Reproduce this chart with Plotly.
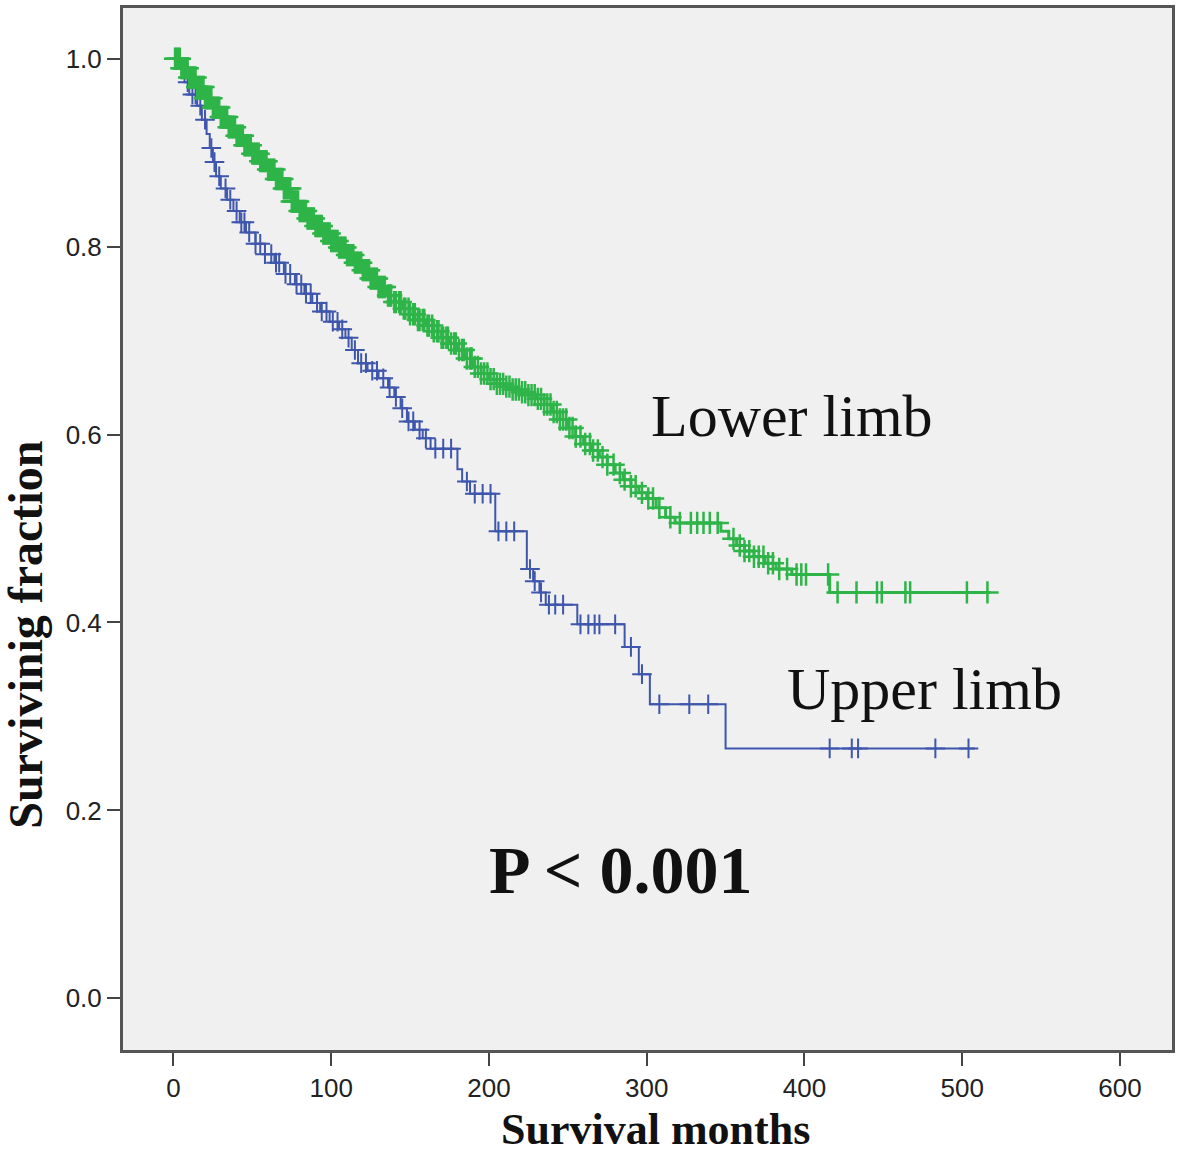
import numpy as np
import plotly.graph_objects as go

# ---------------- data ----------------
# Upper limb Kaplan-Meier step points (months, surviving fraction)
upper_t = [0, 3, 7, 10, 15, 18, 21, 23, 25, 27, 30, 34, 38, 42, 46, 52, 58, 64, 70, 77,
           83, 88, 93, 99, 105, 109, 113, 117, 123, 130, 136, 140, 144, 148, 153, 158, 163,
           180, 183, 188, 204, 224, 228, 232, 236, 256, 286, 295, 302, 350, 508]
upper_s = [1.0, 0.99, 0.975, 0.962, 0.95, 0.935, 0.92, 0.905, 0.89, 0.875, 0.862, 0.85, 0.838,
           0.826, 0.815, 0.803, 0.792, 0.783, 0.771, 0.76, 0.75, 0.74, 0.731, 0.72, 0.712, 0.703,
           0.69, 0.676, 0.668, 0.66, 0.65, 0.64, 0.628, 0.614, 0.605, 0.596, 0.585,
           0.563, 0.55, 0.537, 0.497, 0.457, 0.444, 0.432, 0.419, 0.398, 0.374, 0.345, 0.313,
           0.266, 0.266]
upper_censor = [6, 9, 12, 14, 17, 20, 24, 26, 29, 33, 36, 40, 43, 45, 48, 52, 55, 58, 62, 65,
                67, 71, 74, 78, 81, 84, 87, 91, 94, 97, 101, 104, 107, 111, 115, 119, 122, 126,
                129, 133, 137, 141, 145, 149, 152, 156, 160, 166, 171, 176, 186, 191, 196, 201,
                206, 211, 216, 226, 229, 233, 238, 242, 247, 258, 263, 267, 270, 280, 290, 297,
                308, 327, 339, 416, 430, 434, 483, 504]

# Lower limb Kaplan-Meier step points
lower_t = [0, 5, 10, 15, 20, 25, 30, 35, 40, 45, 50, 55, 60, 65, 70, 75, 80, 85, 90, 95, 100,
           105, 110, 115, 120, 125, 130, 135, 140, 145, 150, 155, 160, 165, 170, 175, 180, 185,
           190, 195, 200, 205, 210, 215, 220, 225, 230, 235, 240, 245, 250, 255, 260, 265, 270,
           275, 280, 285, 290, 295, 300, 306, 312, 318, 347, 352, 357, 362, 368, 375, 382, 392,
           416, 518]
lower_s = [1.0, 0.99, 0.98, 0.97, 0.958, 0.948, 0.938, 0.927, 0.918, 0.908, 0.899, 0.891, 0.882,
           0.872, 0.862, 0.848, 0.838, 0.83, 0.822, 0.814, 0.806, 0.799, 0.791, 0.783, 0.775,
           0.766, 0.757, 0.748, 0.741, 0.734, 0.728, 0.722, 0.716, 0.71, 0.703, 0.697, 0.69,
           0.681, 0.672, 0.665, 0.659, 0.654, 0.651, 0.648, 0.645, 0.642, 0.638, 0.632, 0.624,
           0.616, 0.607, 0.598, 0.59, 0.583, 0.576, 0.568, 0.559, 0.552, 0.545, 0.538, 0.532,
           0.522, 0.512, 0.506, 0.497, 0.489, 0.482, 0.476, 0.47, 0.463, 0.457, 0.451, 0.432,
           0.432]
lower_censor = [1, 2, 3, 4, 5, 6, 7, 8, 9, 10, 11, 12, 13, 14, 15, 16, 17, 18, 19, 20, 21, 22,
                23, 24, 25, 26, 27, 28, 29, 30, 31, 32, 33, 34, 35, 36, 37, 38, 39, 40, 41, 42,
                43, 44, 45, 46, 47, 48, 49, 50, 51, 52, 53, 54, 55, 56, 57, 58, 59, 60, 61, 62,
                63, 64, 65, 66, 67, 68, 69, 70, 71, 72, 73, 74, 75, 76, 77, 78, 79, 80, 81, 82,
                83, 84, 85, 86, 87, 88, 89, 90, 91, 92, 93, 94, 95, 96, 97, 98, 99, 100, 101,
                102, 103, 104, 105, 106, 107, 108, 109, 110, 111, 112, 113, 114, 115, 116, 117,
                118, 119, 120, 121, 122, 123, 124, 125, 126, 127, 128, 129, 130, 131, 132, 133,
                134, 136, 137, 138, 140, 141, 143, 144, 146, 147, 149, 150, 152, 153, 155, 156,
                158, 159, 161, 162, 164, 165, 167, 168, 170, 171, 173, 174, 176, 178, 179, 181,
                183, 184, 186, 188, 189, 191, 193, 195, 197, 199, 201, 203, 205, 207, 209, 211,
                213, 215, 217, 219, 221, 223, 225, 227, 229, 231, 233, 235, 237, 239, 241, 243,
                245, 247, 249, 251, 253, 255, 258, 261, 264, 266, 269, 272, 275, 279, 283, 286,
                290, 293, 297, 301, 304, 308, 315, 321, 328, 332, 336, 340, 345, 355, 359, 362,
                365, 368, 371, 374, 377, 380, 384, 389, 395, 398, 401, 415, 421, 433, 446, 449,
                464, 467, 503, 516]

x_ticks = [0, 100, 200, 300, 400, 500, 600]
y_ticks = [0.0, 0.2, 0.4, 0.6, 0.8, 1.0]

BLUE = "rgb(62,86,172)"
GREEN = "rgb(46,180,72)"


def km_at(times, surv, pts):
    t = np.asarray(times, float)
    s = np.asarray(surv, float)
    idx = np.searchsorted(t, np.asarray(pts, float), side="right") - 1
    return s[np.clip(idx, 0, len(s) - 1)]


fig = go.Figure()

for t, s, c, col, w, msize, mw in [
    (upper_t, upper_s, upper_censor, BLUE, 2, 14, 2),
    (lower_t, lower_s, lower_censor, GREEN, 3, 16, 2.5),
]:
    fig.add_trace(go.Scatter(x=t, y=s, mode="lines", line=dict(color=col, width=w, shape="hv"),
                             showlegend=False, hoverinfo="skip"))
    fig.add_trace(go.Scatter(x=c, y=km_at(t, s, c), mode="markers",
                             marker=dict(symbol="cross-thin", size=msize,
                                         line=dict(color=col, width=mw), color=col),
                             showlegend=False, hoverinfo="skip"))

serif = "Liberation Serif, Times New Roman, serif"
sans = "Liberation Sans, Arial, sans-serif"

fig.add_annotation(x=392, y=0.62, xref="x", yref="y", text="Lower limb", showarrow=False,
                   font=dict(family=serif, size=60, color="#111"), xanchor="center", yanchor="middle")
fig.add_annotation(x=476, y=0.329, xref="x", yref="y", text="Upper limb", showarrow=False,
                   font=dict(family=serif, size=60, color="#111"), xanchor="center", yanchor="middle")
fig.add_annotation(x=284, y=0.137, xref="x", yref="y", text="<b>P < 0.001</b>", showarrow=False,
                   font=dict(family=serif, size=68, color="#111"), xanchor="center", yanchor="middle")

fig.add_annotation(x=(655 - 123) / 1049, y=(1050 - 1155) / 1045, xref="paper", yref="paper",
                   text="<b>Survival months</b>", showarrow=False, borderpad=0,
                   font=dict(family=serif, size=44, color="#111"), xanchor="center", yanchor="bottom")
fig.add_annotation(x=-0.093, y=(1050 - 633) / 1045, xref="paper", yref="paper",
                   text="<b>Survivinig fraction</b>", showarrow=False, textangle=-90,
                   font=dict(family=serif, size=48, color="#111"), xanchor="center", yanchor="middle")

axis_common = dict(showgrid=False, zeroline=False, showline=True, mirror=True,
                   linecolor="#555", linewidth=3, ticks="outside", ticklen=13, tickwidth=2,
                   tickcolor="#444", tickfont=dict(family=sans, size=26, color="#222"))

fig.update_xaxes(range=[-32, 633], tickvals=x_ticks, ticktext=[str(v) for v in x_ticks],
                 **axis_common)
fig.update_yaxes(range=[-0.055, 1.054], tickvals=y_ticks, ticktext=[f"{v:.1f}" for v in y_ticks],
                 **axis_common)

fig.update_layout(width=1181, height=1156, margin=dict(l=123, r=9, t=5, b=106),
                  paper_bgcolor="white", plot_bgcolor="#f0f0f0")

fig.write_html("out.html", config={"displayModeBar": False},
               post_script="document.body.style.margin='0px';")
